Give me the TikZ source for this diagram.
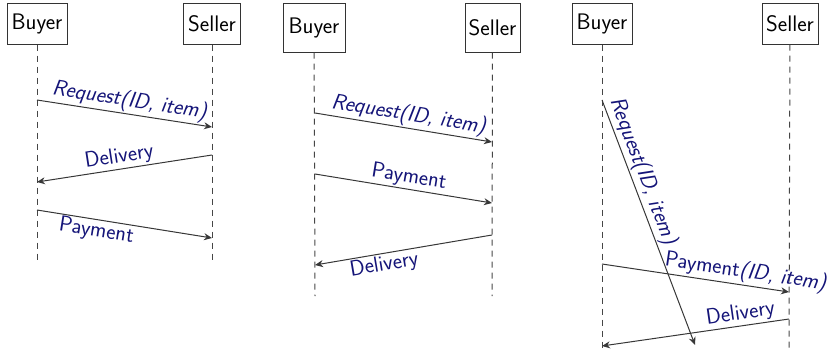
\documentclass[tikz,border=0pt]{standalone}
\usetikzlibrary{arrows.meta}
\definecolor{lbl}{RGB}{20,20,120}
\definecolor{arr}{RGB}{55,55,55}
\definecolor{life}{RGB}{70,70,70}
\begin{document}
\begin{tikzpicture}[x=1pt,y=-1pt,
  actor/.style={draw=black!80,line width=1pt,fill=white,inner sep=0pt,minimum height=41pt,font=\sffamily\fontsize{22.5}{26}\selectfont},
  lifeline/.style={draw=life,line width=1pt,dash pattern=on 6pt off 5pt},
  msg/.style={draw=arr,line width=1pt,-{Stealth[length=8pt,width=7pt]}},
  lab/.style={text=lbl,font=\sffamily\fontsize{22}{26}\selectfont,sloped,inner sep=1.5pt}]
\useasboundingbox (0,0) rectangle (828,349);
% ---------- diagram 1
\node[actor,minimum width=60pt] (b1) at (37,23.5) {Buyer};
\node[actor,minimum width=57pt] (s1) at (212,23.5) {Seller};
\coordinate (b1e) at (37,260); \coordinate (s1e) at (212,260);
\draw[lifeline] (b1) -- (b1e);
\draw[lifeline] (s1) -- (s1e);
\coordinate (a1) at (37,100); \coordinate (a2) at (212,127);
\coordinate (a3) at (212,155); \coordinate (a4) at (37,182);
\coordinate (a5) at (37,210); \coordinate (a6) at (212,238);
\draw[msg] (a1) -- node[lab,above,pos=0.52] {\textsl{Request(ID, item)}} (a2);
\draw[msg] (a3) -- node[lab,above,pos=0.52] {Delivery} (a4);
\draw[msg] (a5) -- node[lab,below,pos=0.35] {Payment} (a6);
% ---------- diagram 2
\node[actor,minimum width=62pt,minimum height=49pt] (b2) at (314,27.5) {Buyer};
\node[actor,minimum width=55pt,minimum height=49pt] (s2) at (492.5,27.5) {Seller};
\coordinate (b2e) at (315,296); \coordinate (s2e) at (492,296);
\draw[lifeline] (b2) -- (b2e);
\draw[lifeline] (s2) -- (s2e);
\coordinate (c1) at (315,113); \coordinate (c2) at (492,142);
\coordinate (c3) at (315,174); \coordinate (c4) at (492,203);
\coordinate (c5) at (492,235); \coordinate (c6) at (315,265);
\draw[msg] (c1) -- node[lab,above,pos=0.52] {\textsl{Request(ID, item)}} (c2);
\draw[msg] (c3) -- node[lab,above,pos=0.52] {Payment} (c4);
\draw[msg] (c5) -- node[lab,below,pos=0.62] {Delivery} (c6);
% ---------- diagram 3
\node[actor,minimum width=60pt] (b3) at (602,23.5) {Buyer};
\node[actor,minimum width=56pt] (s3) at (790,23.5) {Seller};
\coordinate (b3e) at (602,348); \coordinate (s3e) at (789,348);
\draw[lifeline] (b3) -- (b3e);
\draw[lifeline] (s3) -- (s3e);
\coordinate (d1) at (602,100); \coordinate (d2) at (695,345);
\coordinate (d3) at (602,264); \coordinate (d4) at (789,292);
\coordinate (d5) at (789,319); \coordinate (d6) at (602,346);
\draw[msg] (d1) -- node[lab,above,pos=0.31] {\textsl{Request(ID, item)}} (d2);
\draw[msg] (d3) -- node[lab,above,pos=0.76] {Payment\textsl{(ID, item)}} (d4);
\draw[msg] (d5) -- node[lab,above,pos=0.25] {Delivery} (d6);
\end{tikzpicture}
\end{document}
